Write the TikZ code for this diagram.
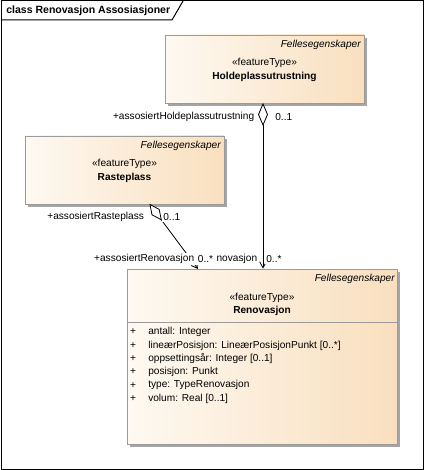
\documentclass[tikz,border=0pt]{standalone}
\usepackage{fontspec}
\setmainfont{Liberation Sans}
\usetikzlibrary{arrows.meta,shadows}
\definecolor{boxL}{RGB}{254,249,242}
\definecolor{boxR}{RGB}{249,223,190}
\definecolor{shadowc}{RGB}{165,165,165}
\definecolor{borderc}{RGB}{155,155,155}
\newcommand\fs{\fontsize{7.6}{9}\selectfont}
\begin{document}
\begin{tikzpicture}[x=0.75pt,y=-0.75pt,
  classbox/.style={draw=borderc, line width=0.6pt, left color=boxL, right color=boxR,
    inner sep=0pt, drop shadow={shadow xshift=2.6pt, shadow yshift=-2.6pt, fill=shadowc, opacity=1}},
  txt/.style={font=\fs, inner sep=0pt},
  stereo/.style={font=\fs, inner sep=0pt},
  cname/.style={font=\fs\bfseries, inner sep=0pt},
  tagv/.style={font=\fs\itshape, inner sep=0pt, anchor=east},
  lbl/.style={font=\fs, inner sep=0.8pt, fill=white},
  assoc/.style={line width=0.6pt, draw=black},
  arr/.style={assoc, -{Straight Barb[length=4.5pt,width=5pt]}},
  attr/.style={font=\fs, inner sep=0pt, anchor=west}
]
\useasboundingbox (0,0) rectangle (424,470);
% frame
\draw[line width=0.75pt] (1,1) rectangle (423,469);
\draw[line width=0.75pt] (1,20) -- (172,20) -- (183,1);
\node[font=\fontsize{7.9}{9}\selectfont\bfseries, inner sep=0pt, anchor=west] (title) at (6,11) {class Renovasjon Assosiasjoner};

% boxes
\node[classbox, minimum width=149.25pt, minimum height=51pt] (hold) at (264.5,69) {};
\node[classbox, minimum width=149.25pt, minimum height=51pt] (raste) at (124.5,170) {};
\node[classbox, minimum width=202.5pt, minimum height=131.25pt] (reno) at (262,356.5) {};

% Holdeplassutrustning texts
\node[tagv] (holdT) at (361,45) {Fellesegenskaper};
\node[stereo] (holdS) at (264.5,63) {«featureType»};
\node[cname] (holdN) at (264.5,77) {Holdeplassutrustning};

% Rasteplass texts
\node[tagv] (rasteT) at (221,146) {Fellesegenskaper};
\node[stereo] (rasteS) at (124.5,164) {«featureType»};
\node[cname] (rasteN) at (124.5,178) {Rasteplass};

% Renovasjon texts
\node[tagv] (renoT) at (395,279) {Fellesegenskaper};
\node[stereo] (renoS) at (262,298) {«featureType»};
\node[cname] (renoN) at (262,311) {Renovasjon};
\coordinate (sepL) at (127,322);
\coordinate (sepR) at (397,322);
\draw[draw=borderc, line width=0.6pt] (sepL) -- (sepR);

\foreach \i/\y/\t in {1/332/{antall: Integer},
  2/345.5/{lineærPosisjon: LineærPosisjonPunkt [0..*]},
  3/358.7/{oppsettingsår: Integer [0..1]},
  4/372/{posisjon: Punkt},
  5/385.2/{type: TypeRenovasjon},
  6/398.4/{volum: Real [0..1]}}{
  \node[txt] (plus\i) at (133,\y) {+};
  \node[attr] (attr\i) at (148,\y) {\t};
}

% association Holdeplassutrustning -> Renovasjon
\coordinate (hdT) at (263,104);
\coordinate (hdR) at (267.5,114.5);
\coordinate (hdB) at (263,125);
\coordinate (hdL) at (258.5,114.5);
\draw[assoc, fill=white] (hdT) -- (hdR) -- (hdB) -- (hdL) -- cycle;
\draw[arr] (hdB) -- (hdB |- reno.north);

% association Rasteplass -> Renovasjon
\coordinate (rdT) at (150,204.5);
\coordinate (rdR) at (159.2,209.4);
\coordinate (rdB) at (161.3,219.8);
\coordinate (rdL) at (152.0,214.8);
\coordinate (rEnd) at (198,269);
\draw[assoc, fill=white] (rdT) -- (rdR) -- (rdB) -- (rdL) -- cycle;
\draw[arr] (rdB) -- (rEnd);

% labels
\node[lbl, anchor=east] (lHold) at (255.5,117) {+assosiertHoldeplassutrustning};
\node[lbl, anchor=west] (mHold) at (274,117) {0..1};
\node[lbl, anchor=west] (lRaste) at (46,217) {+assosiertRasteplass};
\node[lbl, anchor=west] (mRaste) at (162,217) {0..1};
\node[lbl, anchor=east] (lRenoH) at (258.5,259) {+assosiertRenovasjon};
\node[lbl, anchor=east] (lRenoR) at (195.5,259) {+assosiertRenovasjon};
\node[lbl, anchor=west, inner xsep=2pt] (mRenoR) at (195,259) {0..*};
\node[lbl, anchor=west] (mRenoH) at (265,259) {0..*};
\end{tikzpicture}
\end{document}
